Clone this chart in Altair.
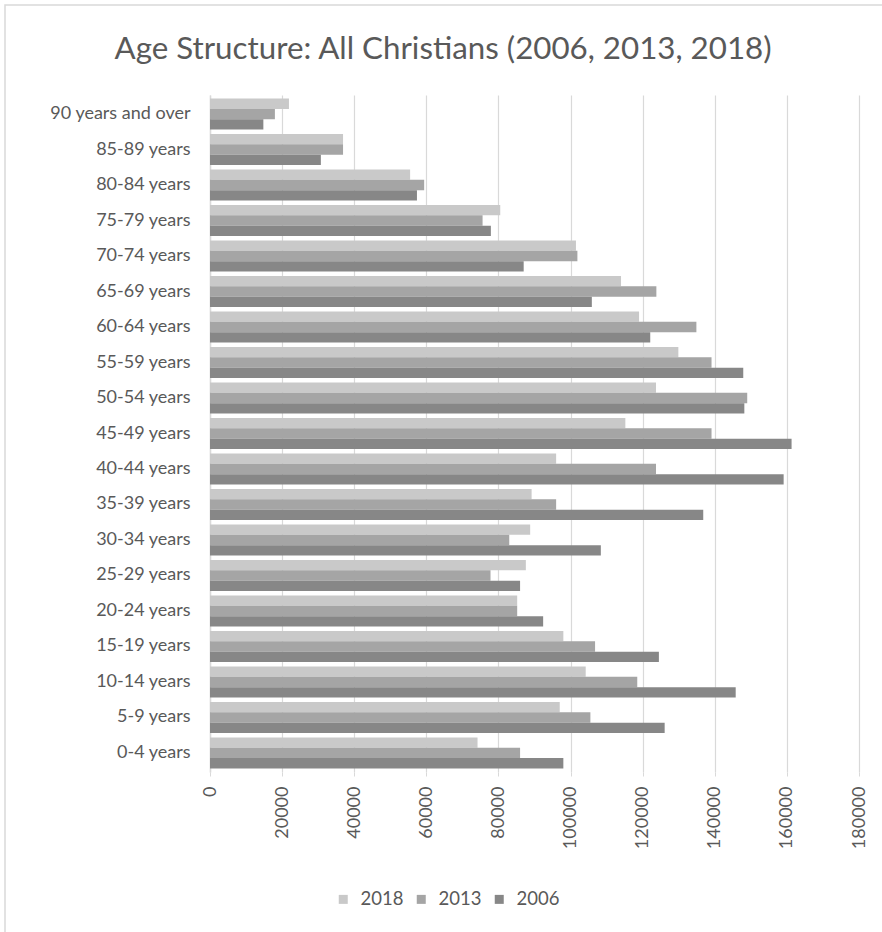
import altair as alt
import pandas as pd

ages = ["90 years and over", "85-89 years", "80-84 years", "75-79 years", "70-74 years",
        "65-69 years", "60-64 years", "55-59 years", "50-54 years", "45-49 years",
        "40-44 years", "35-39 years", "30-34 years", "25-29 years", "20-24 years",
        "15-19 years", "10-14 years", "5-9 years", "0-4 years"]
years = ["2018", "2013", "2006"]
v2018 = [21900, 36900, 55500, 80500, 101500, 114000, 119000, 129900, 123700, 115200,
         96000, 89200, 88800, 87600, 85200, 98000, 104200, 97000, 74200]
v2013 = [18000, 36900, 59400, 75600, 101900, 123800, 134900, 139100, 149000, 139100,
         123700, 96000, 83000, 77800, 85200, 106800, 118500, 105500, 86000]
v2006 = [14800, 30750, 57400, 77900, 87000, 105900, 122100, 147900, 148200, 161300,
         159100, 136800, 108400, 86000, 92400, 124500, 145800, 126100, 98000]
colors = ["#c9c9c9", "#a5a5a5", "#878787"]
x_ticks = [0, 20000, 40000, 60000, 80000, 100000, 120000, 140000, 160000, 180000]
title_text = "Age Structure: All Christians (2006, 2013, 2018)"

rows = []
for i, a in enumerate(ages):
    for yr, vals in zip(years, [v2018, v2013, v2006]):
        rows.append({"age": a, "year": yr, "value": vals[i]})
df = pd.DataFrame(rows)

FONT = "Lato"
TXT = "#595959"
GRID = "#d9d9d9"

bars = alt.Chart(df).mark_bar().encode(
    x=alt.X("value:Q",
            scale=alt.Scale(domain=[0, 180000], nice=False, zero=True),
            axis=alt.Axis(values=x_ticks, format="d", title=None, labelAngle=-90,
                          labelAlign="right", labelBaseline="middle",
                          labelFont=FONT, labelFontSize=18, labelColor=TXT,
                          labelPadding=10, grid=True, gridColor=GRID, gridWidth=1.2,
                          domain=False, ticks=True, tickSize=4, tickColor=GRID)),
    y=alt.Y("age:N", sort=ages,
            scale=alt.Scale(paddingInner=0.127, paddingOuter=0.1),
            axis=alt.Axis(title=None, labelFont=FONT, labelFontSize=18,
                          labelColor=TXT, labelPadding=20, ticks=False,
                          domain=True, domainColor=GRID, domainWidth=1.5,
                          grid=False)),
    yOffset=alt.YOffset("year:N", sort=years,
                        scale=alt.Scale(paddingInner=0, paddingOuter=0)),
    color=alt.Color("year:N", sort=years,
                    scale=alt.Scale(domain=years, range=colors),
                    legend=alt.Legend(title=None, orient="none", direction="horizontal",
                                      legendX=124, legendY=795,
                                      symbolType="square", symbolSize=81,
                                      symbolStrokeWidth=0,
                                      labelFont=FONT, labelFontSize=18.5,
                                      labelColor=TXT, labelOffset=8,
                                      columnPadding=8)),
)

frame_df = pd.DataFrame({"k": [0]})
frame = alt.Chart(frame_df).mark_rect(fill=None, stroke=GRID, strokeWidth=1.5).encode(
    x=alt.value(-205), x2=alt.value(700), y=alt.value(-90), y2=alt.value(860)
)

title_df = pd.DataFrame({"t": [title_text]})
title = alt.Chart(title_df).mark_text(
    font=FONT, fontSize=31.3, color=TXT, align="center", baseline="alphabetic"
).encode(text="t:N", x=alt.value(233), y=alt.value(-36))

chart = alt.layer(frame, bars, title).properties(
    width=649, height=677,
    padding={"left": 210, "top": 95, "right": 23, "bottom": 160},
    autosize=alt.AutoSizeParams(type="none"),
).configure_view(stroke=None)

chart.save("out.html", embed_options={"renderer": "svg", "actions": False})
